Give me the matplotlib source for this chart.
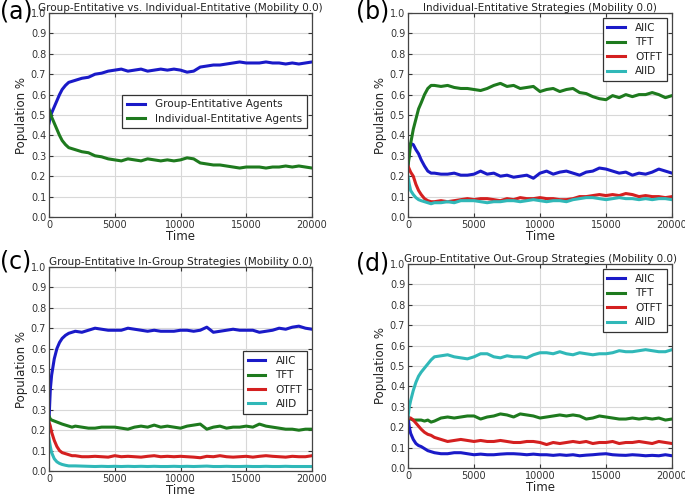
import matplotlib
matplotlib.use("Agg")
import matplotlib.pyplot as plt

# ---------------- data ----------------
t = [0, 100, 200, 400, 600, 800, 1000, 1250, 1500, 1750, 2000,
     2500, 3000, 3500, 4000, 4500, 5000, 5500, 6000, 6500, 7000,
     7500, 8000, 8500, 9000, 9500, 10000, 10500, 11000, 11500, 12000,
     12500, 13000, 13500, 14000, 14500, 15000, 15500, 16000, 16500, 17000,
     17500, 18000, 18500, 19000, 19500, 20000]

# (a)
a_group = [0.46, 0.49, 0.51, 0.54, 0.57, 0.60, 0.625, 0.645, 0.66, 0.665, 0.67,
           0.68, 0.685, 0.70, 0.705, 0.715, 0.72, 0.725, 0.715, 0.72, 0.725,
           0.715, 0.72, 0.725, 0.72, 0.725, 0.72, 0.71, 0.715, 0.735, 0.74,
           0.745, 0.745, 0.75, 0.755, 0.76, 0.755, 0.755, 0.755, 0.76, 0.755,
           0.755, 0.75, 0.755, 0.75, 0.755, 0.76]
a_indiv = [0.53, 0.51, 0.49, 0.46, 0.43, 0.40, 0.375, 0.355, 0.34, 0.335, 0.33,
           0.32, 0.315, 0.30, 0.295, 0.285, 0.28, 0.275, 0.285, 0.28, 0.275,
           0.285, 0.28, 0.275, 0.28, 0.275, 0.28, 0.29, 0.285, 0.265, 0.26,
           0.255, 0.255, 0.25, 0.245, 0.24, 0.245, 0.245, 0.245, 0.24, 0.245,
           0.245, 0.25, 0.245, 0.25, 0.245, 0.24]

# (b)
b_allc = [0.25, 0.33, 0.36, 0.355, 0.33, 0.31, 0.28, 0.25, 0.225, 0.215, 0.215,
          0.21, 0.21, 0.215, 0.205, 0.205, 0.21, 0.225, 0.21, 0.215, 0.20,
          0.205, 0.195, 0.20, 0.205, 0.19, 0.215, 0.225, 0.21, 0.22, 0.225,
          0.215, 0.205, 0.22, 0.225, 0.24, 0.235, 0.225, 0.215, 0.22, 0.205,
          0.215, 0.21, 0.22, 0.235, 0.225, 0.215]
b_tft = [0.25, 0.30, 0.36, 0.43, 0.48, 0.53, 0.56, 0.60, 0.63, 0.645, 0.645,
         0.64, 0.645, 0.635, 0.63, 0.63, 0.625, 0.62, 0.63, 0.645, 0.655,
         0.64, 0.645, 0.63, 0.635, 0.64, 0.615, 0.625, 0.63, 0.615, 0.625,
         0.63, 0.61, 0.605, 0.59, 0.58, 0.575, 0.595, 0.585, 0.60, 0.59,
         0.60, 0.60, 0.61, 0.60, 0.585, 0.595]
b_otft = [0.25, 0.235, 0.22, 0.20, 0.16, 0.13, 0.11, 0.09, 0.08, 0.075, 0.075,
          0.08, 0.075, 0.08, 0.085, 0.09, 0.085, 0.09, 0.09, 0.085, 0.08,
          0.09, 0.085, 0.095, 0.09, 0.09, 0.095, 0.09, 0.09, 0.085, 0.085,
          0.09, 0.10, 0.10, 0.105, 0.11, 0.105, 0.11, 0.105, 0.115, 0.11,
          0.10, 0.105, 0.10, 0.10, 0.095, 0.10]
b_alld = [0.20, 0.16, 0.13, 0.11, 0.095, 0.085, 0.08, 0.075, 0.07, 0.065, 0.07,
          0.07, 0.075, 0.07, 0.08, 0.08, 0.08, 0.075, 0.07, 0.075, 0.075,
          0.08, 0.08, 0.075, 0.08, 0.085, 0.08, 0.075, 0.08, 0.08, 0.075,
          0.085, 0.09, 0.095, 0.095, 0.09, 0.085, 0.09, 0.095, 0.09, 0.09,
          0.085, 0.09, 0.085, 0.09, 0.09, 0.085]

# (c)
c_allc = [0.25, 0.40, 0.47, 0.55, 0.60, 0.63, 0.65, 0.665, 0.675, 0.68, 0.685,
          0.68, 0.69, 0.70, 0.695, 0.69, 0.69, 0.69, 0.70, 0.695, 0.69,
          0.685, 0.69, 0.685, 0.685, 0.685, 0.69, 0.69, 0.685, 0.69, 0.705,
          0.68, 0.685, 0.69, 0.695, 0.69, 0.69, 0.69, 0.68, 0.685, 0.69,
          0.70, 0.695, 0.705, 0.71, 0.70, 0.695]
c_tft = [0.27, 0.255, 0.25, 0.245, 0.24, 0.235, 0.23, 0.225, 0.22, 0.215, 0.22,
         0.215, 0.21, 0.21, 0.215, 0.215, 0.215, 0.21, 0.205, 0.215, 0.22,
         0.215, 0.225, 0.215, 0.22, 0.215, 0.21, 0.22, 0.225, 0.23, 0.205,
         0.215, 0.22, 0.21, 0.215, 0.215, 0.22, 0.215, 0.23, 0.22, 0.215,
         0.21, 0.205, 0.205, 0.20, 0.205, 0.205]
c_otft = [0.24, 0.22, 0.19, 0.15, 0.12, 0.10, 0.09, 0.085, 0.08, 0.075, 0.075,
          0.07, 0.07, 0.072, 0.07, 0.068, 0.075, 0.07, 0.072, 0.07, 0.068,
          0.072, 0.075, 0.07, 0.072, 0.07, 0.072, 0.07, 0.068, 0.065, 0.072,
          0.07, 0.075, 0.07, 0.068, 0.07, 0.072, 0.068, 0.072, 0.075, 0.072,
          0.07, 0.068, 0.072, 0.07, 0.07, 0.075]
c_alld = [0.16, 0.12, 0.09, 0.06, 0.045, 0.037, 0.032, 0.028, 0.025, 0.025, 0.025,
          0.024, 0.023, 0.022, 0.023, 0.022, 0.023, 0.022, 0.023, 0.022, 0.023,
          0.022, 0.023, 0.022, 0.022, 0.023, 0.022, 0.023, 0.022, 0.023, 0.024,
          0.022, 0.022, 0.023, 0.022, 0.022, 0.023, 0.022, 0.022, 0.023, 0.022,
          0.022, 0.023, 0.022, 0.022, 0.022, 0.022]

# (d)
d_allc = [0.25, 0.20, 0.17, 0.14, 0.12, 0.11, 0.105, 0.095, 0.085, 0.08, 0.075,
          0.07, 0.07, 0.075, 0.075, 0.07, 0.065, 0.068, 0.065, 0.065, 0.068,
          0.07, 0.07, 0.068, 0.065, 0.068, 0.065, 0.065, 0.062, 0.065, 0.062,
          0.065, 0.06, 0.063, 0.065, 0.068, 0.07, 0.065, 0.063, 0.062, 0.065,
          0.063, 0.06, 0.062, 0.06, 0.065, 0.06]
d_tft = [0.25, 0.245, 0.24, 0.235, 0.235, 0.235, 0.235, 0.23, 0.235, 0.225, 0.23,
         0.245, 0.25, 0.245, 0.25, 0.255, 0.255, 0.24, 0.25, 0.255, 0.265,
         0.26, 0.25, 0.265, 0.26, 0.255, 0.245, 0.25, 0.255, 0.26, 0.255,
         0.26, 0.255, 0.24, 0.245, 0.255, 0.25, 0.245, 0.24, 0.24, 0.245,
         0.24, 0.245, 0.24, 0.245, 0.235, 0.24]
d_otft = [0.25, 0.245, 0.245, 0.235, 0.22, 0.205, 0.19, 0.175, 0.165, 0.16, 0.15,
          0.14, 0.13, 0.135, 0.14, 0.135, 0.13, 0.135, 0.13, 0.13, 0.135,
          0.13, 0.125, 0.125, 0.13, 0.13, 0.125, 0.115, 0.125, 0.12, 0.125,
          0.13, 0.125, 0.13, 0.12, 0.125, 0.125, 0.13, 0.12, 0.125, 0.125,
          0.13, 0.125, 0.12, 0.13, 0.125, 0.12]
d_alld = [0.25, 0.30, 0.33, 0.38, 0.42, 0.45, 0.47, 0.49, 0.51, 0.53, 0.545,
          0.55, 0.555, 0.545, 0.54, 0.535, 0.545, 0.56, 0.56, 0.545, 0.54,
          0.55, 0.545, 0.545, 0.54, 0.555, 0.565, 0.565, 0.56, 0.57, 0.56,
          0.555, 0.565, 0.56, 0.555, 0.56, 0.56, 0.565, 0.575, 0.57, 0.57,
          0.575, 0.58, 0.575, 0.57, 0.57, 0.58]

strategies = ["AllC", "TFT", "OTFT", "AllD"]
titles = ["Group-Entitative vs. Individual-Entitative (Mobility 0.0)",
          "Individual-Entitative Strategies (Mobility 0.0)",
          "Group-Entitative In-Group Strategies (Mobility 0.0)",
          "Group-Entitative Out-Group Strategies (Mobility 0.0)"]
panel_labels = ["(a)", "(b)", "(c)", "(d)"]
xticks = [0, 5000, 10000, 15000, 20000]
yticks = [0.0, 0.1, 0.2, 0.3, 0.4, 0.5, 0.6, 0.7, 0.8, 0.9, 1.0]

# ---------------- style ----------------
BLUE = "#1a1ac8"
GREEN = "#1e7a1e"
RED = "#d42020"
CYAN = "#30b8b8"
colors4 = [BLUE, GREEN, RED, CYAN]

W, H = 685, 496
fig = plt.figure(figsize=(W / 100, H / 100), dpi=100)

def rect(l, r, top, bot):
    return [l / W, 1 - bot / H, (r - l) / W, (bot - top) / H]

axes = [fig.add_axes(rect(49, 312, 13, 217)),
        fig.add_axes(rect(408, 672, 13, 217)),
        fig.add_axes(rect(49, 312, 267, 471)),
        fig.add_axes(rect(408, 672, 264, 468))]

series = [[a_group, a_indiv],
          [b_allc, b_tft, b_otft, b_alld],
          [c_allc, c_tft, c_otft, c_alld],
          [d_allc, d_tft, d_otft, d_alld]]
labels = [["Group-Entitative Agents", "Individual-Entitative Agents"],
          strategies, strategies, strategies]

for i, ax in enumerate(axes):
    for j, ys in enumerate(series[i]):
        ax.plot(t, ys, color=colors4[j], lw=2.2, label=labels[i][j])
    ax.set_xlim(0, 20000)
    ax.set_ylim(0, 1.0)
    ax.set_xticks(xticks)
    ax.set_yticks(yticks)
    ax.set_yticklabels([f"{v:.1f}" for v in yticks])
    ax.tick_params(labelsize=7, direction="in", top=True, right=True,
                   length=3, colors="#333333", pad=2)
    ax.grid(True, color="#d8d8d8", lw=0.8)
    ax.set_axisbelow(True)
    for s in ax.spines.values():
        s.set_color("#444444")
        s.set_linewidth(0.9)
    ax.set_xlabel("Time", fontsize=8.5, labelpad=0, color="#222222")
    ax.set_ylabel("Population %", fontsize=8.5, labelpad=2, color="#222222")
    ax.set_title(titles[i], fontsize=7.5, pad=1.5, color="#222222")

leg_kw = dict(fontsize=7.6, frameon=True, fancybox=False, framealpha=1,
              edgecolor="#333333", handlelength=1.7, borderpad=0.45,
              labelspacing=0.42, handletextpad=0.95)
axes[0].legend(loc="center right", bbox_to_anchor=(0.981, 0.517),
               borderaxespad=0, **leg_kw)
axes[1].legend(loc="upper right", borderaxespad=0.5, **leg_kw)
axes[2].legend(loc="center right", bbox_to_anchor=(0.981, 0.434),
               borderaxespad=0, **leg_kw)
axes[3].legend(loc="upper right", borderaxespad=0.5, **leg_kw)
for ax in axes:
    ax.get_legend().get_frame().set_linewidth(0.9)
    for txt in ax.get_legend().get_texts():
        txt.set_color("#222222")

fig.text(0 / W, 1 - 0 / H, "(a)", fontsize=17, va="top", ha="left")
fig.text(356 / W, 1 - 0 / H, "(b)", fontsize=17, va="top", ha="left")
fig.text(0 / W, 1 - 250 / H, "(c)", fontsize=17, va="top", ha="left")
fig.text(356 / W, 1 - 251 / H, "(d)", fontsize=17, va="top", ha="left")

fig.savefig("out.png", dpi=100)
